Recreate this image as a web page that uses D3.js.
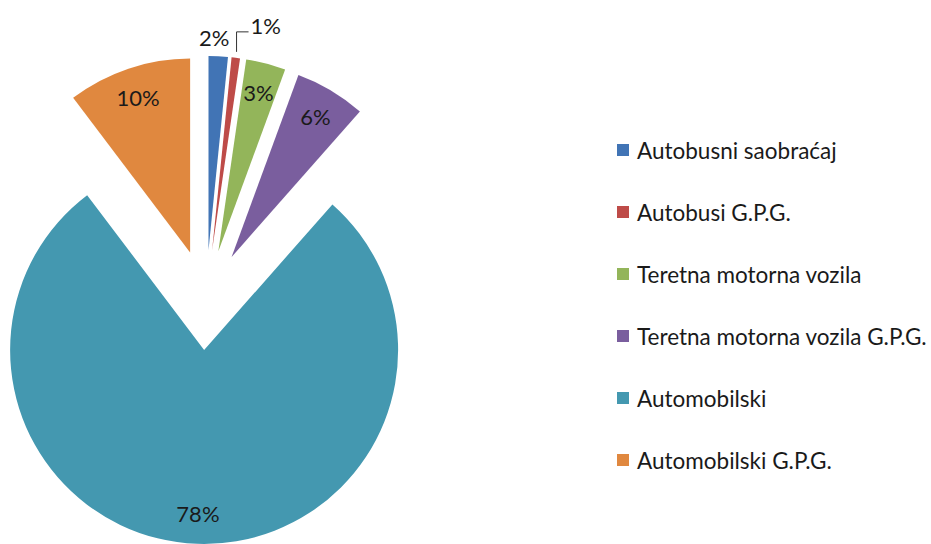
<!DOCTYPE html>
<html>
<head>
<meta charset="utf-8">
<script src="https://cdn.jsdelivr.net/npm/d3@7.9.0/dist/d3.min.js"></script>
<style>
  html, body { margin: 0; padding: 0; background: #fff; }
  svg { display: block; }
  text { font-family: Lato, "Open Sans", sans-serif; fill: #1a1a1a; }
</style>
</head>
<body>
<svg id="chart" width="931" height="544"></svg>
<script>
// ========== Data ==========
const categories = [
  'Autobusni saobraćaj',
  'Autobusi G.P.G.',
  'Teretna motorna vozila',
  'Teretna motorna vozila G.P.G.',
  'Automobilski',
  'Automobilski G.P.G.'
];
const shares = [1.6, 0.7, 3.3, 5.9, 78.2, 10.3];
const colors = ['#4174B5', '#BE4B48', '#93B55A', '#7A5E9E', '#4498B0', '#E0883F'];
// where each data label goes: outside the slice, outside with a leader line, or inside
const labelPlacement = ['outside', 'leader', 'inside', 'inside', 'inside', 'inside'];

// ========== Layout ==========
const cx = 206, cy = 300;
const radius = 194;
const explode = 50;

const svg = d3.select('#chart');
const total = d3.sum(shares);

const pie = d3.pie().sort(null).value((d) => d)(shares);
const arc = d3.arc().innerRadius(0).outerRadius(radius);

const g = svg.append('g').attr('transform', `translate(${cx},${cy})`);

// unit vector along a slice's bisector (0 = up, clockwise)
function dir(slice) {
  const a = (slice.startAngle + slice.endAngle) / 2;
  return [Math.sin(a), -Math.cos(a)];
}

// ========== Slices ==========
const slices = g.selectAll('g.slice')
  .data(pie)
  .join('g')
  .attr('class', 'slice')
  .attr('transform', (d) => {
    const [ux, uy] = dir(d);
    return `translate(${ux * explode},${uy * explode})`;
  });

slices.append('path')
  .attr('d', arc)
  .attr('fill', (d, i) => colors[i]);

// ========== Data labels ==========
const fmt = (v) => `${Math.round(v / total * 100)}%`;
const labelSize = 22;

pie.forEach((d, i) => {
  const [ux, uy] = dir(d);
  const place = labelPlacement[i];
  if (place === 'inside') {
    const rr = explode + radius * 0.845;
    g.append('text')
      .attr('x', ux * rr)
      .attr('y', uy * rr)
      .attr('text-anchor', 'middle')
      .attr('dominant-baseline', 'central')
      .attr('font-size', labelSize)
      .text(fmt(d.value));
  } else if (place === 'outside') {
    const rr = explode + radius + 19;
    g.append('text')
      .attr('x', ux * rr - 5)
      .attr('y', uy * rr)
      .attr('text-anchor', 'middle')
      .attr('dominant-baseline', 'central')
      .attr('font-size', labelSize)
      .text(fmt(d.value));
  } else {
    // leader line going up then right
    const r0 = explode + radius + 6;
    const px = ux * r0, py = uy * r0;
    const ly = py - 20;
    g.append('path')
      .attr('d', `M${px},${py}V${ly}H${px + 12}`)
      .attr('fill', 'none')
      .attr('stroke', '#333')
      .attr('stroke-width', 1);
    g.append('text')
      .attr('x', px + 14)
      .attr('y', ly - 6)
      .attr('text-anchor', 'start')
      .attr('dominant-baseline', 'central')
      .attr('font-size', labelSize)
      .text(fmt(d.value));
  }
});

// ========== Legend ==========
const legendY = d3.scalePoint()
  .domain(categories)
  .range([150, 460]);

const legend = svg.append('g');
const items = legend.selectAll('g')
  .data(categories)
  .join('g')
  .attr('transform', (d) => `translate(617,${legendY(d)})`);

items.append('rect')
  .attr('x', 0)
  .attr('y', -6)
  .attr('width', 12)
  .attr('height', 12)
  .attr('fill', (d, i) => colors[i]);

items.append('text')
  .attr('x', 20)
  .attr('y', 0)
  .attr('dominant-baseline', 'central')
  .attr('font-size', 22.5)
  .text((d) => d);
</script>
</body>
</html>
